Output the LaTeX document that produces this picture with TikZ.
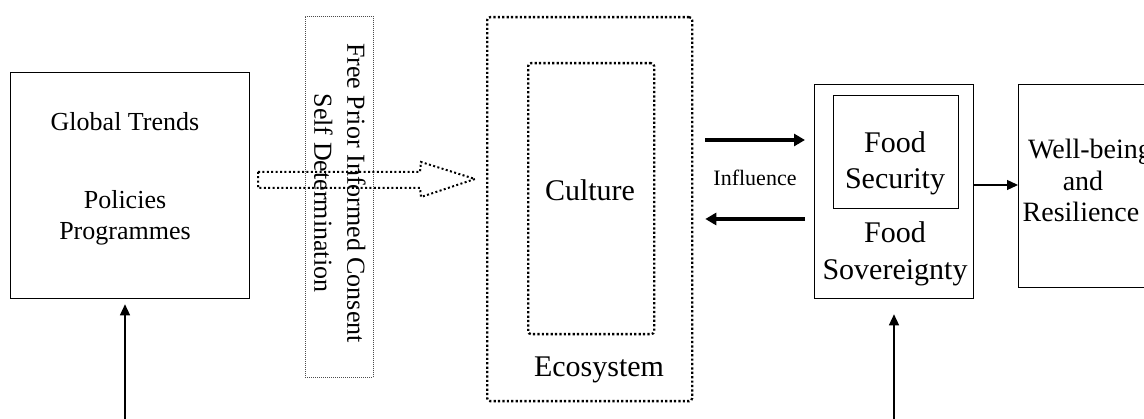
\documentclass[tikz,border=0pt]{standalone}
\usepackage{fontspec}
\setmainfont{Liberation Serif}
\usetikzlibrary{arrows.meta,calc}
\begin{document}
\begin{tikzpicture}[x=1pt,y=-1pt,
  box/.style={draw, line width=1.3pt, inner sep=0pt, anchor=north west},
  dotbox/.style={draw, line width=2.3pt, dash pattern=on 2.2pt off 2.2pt, inner sep=0pt, anchor=north west, rounded corners=3pt},
  faintbox/.style={draw=black!70, line width=0.8pt, dash pattern=on 1pt off 1pt, inner sep=0pt, anchor=north west},
  txt/.style={inner sep=0pt, align=center},
  thinarrow/.style={line width=1.3pt, -{Triangle[length=11pt,width=10pt]}},
  thickarrow/.style={line width=3.5pt, -{Triangle[length=11pt,width=12pt]}},
  blockarrow/.style={line width=2pt, dash pattern=on 2pt off 2.4pt}]
\useasboundingbox (0,0) rectangle (1144,419);

% boxes
\node[box, minimum width=239pt, minimum height=226pt] (gt) at (10,72) {};
\node[faintbox, minimum width=68pt, minimum height=361pt] (fpic) at (305,16) {};
\node[dotbox, minimum width=205pt, minimum height=384pt] (eco) at (486,16) {};
\node[dotbox, minimum width=126pt, minimum height=271pt] (cul) at (527,62) {};
\node[box, minimum width=159pt, minimum height=214pt] (fs) at (814,84) {};
\node[box, minimum width=125pt, minimum height=113pt] (fsec) at (833,95) {};
\node[box, minimum width=140pt, minimum height=203pt] (wb) at (1018,84) {};

% dotted block arrow
\draw[blockarrow] (258,172) -- (420,172) -- (421,162) -- (475,179) -- (421,197) -- (420,188) -- (258,188) -- cycle;

% texts
\node[txt, font=\fontsize{26}{31}\selectfont] (tgt) at (125,122) {Global Trends};
\node[txt, font=\fontsize{26}{31}\selectfont] (tpp) at (125,218) {Policies\\Programmes};
\node[txt, font=\fontsize{26}{33}\selectfont, rotate=-90] (tfp) at (340,193) {Free Prior Informed Consent\\Self Determination};
\node[txt, font=\fontsize{30}{36}\selectfont] (tcul) at (590,190) {Culture};
\node[txt, font=\fontsize{30}{36}\selectfont] (teco) at (599,370) {Ecosystem};
\node[txt, font=\fontsize{22}{26}\selectfont] (tinf) at (755,178) {Influence};
\node[txt, font=\fontsize{30}{36}\selectfont] (tfsec) at (895,163) {Food\\Security};
\node[txt, font=\fontsize{30}{37}\selectfont] (tfsov) at (895,254) {Food\\Sovereignty};
\node[txt, font=\fontsize{28}{30}\selectfont, anchor=west] (twb) at (1028,152) {Well-being};
\node[txt, font=\fontsize{28}{30}\selectfont] (tand) at (1083,181) {and};
\node[txt, font=\fontsize{28}{30}\selectfont] (tres) at (1081,212) {Resilience};

% connectors
\coordinate (b1) at (125,419);
\coordinate (b2) at (894,419);
\draw[thinarrow, shorten >=5pt] (b1) -- (b1 |- gt.south);
\draw[thinarrow, shorten >=15pt] (b2) -- (b2 |- fs.south);
\draw[thinarrow] (fs.east |- {(0,185)}) -- (wb.west |- {(0,185)});
\draw[thickarrow, shorten <=12pt, shorten >=9pt] (eco.east |- {(0,140)}) -- (fs.west |- {(0,140)});
\draw[thickarrow, shorten <=9pt, shorten >=12pt] (fs.west |- {(0,219)}) -- (eco.east |- {(0,219)});
\end{tikzpicture}
\end{document}
